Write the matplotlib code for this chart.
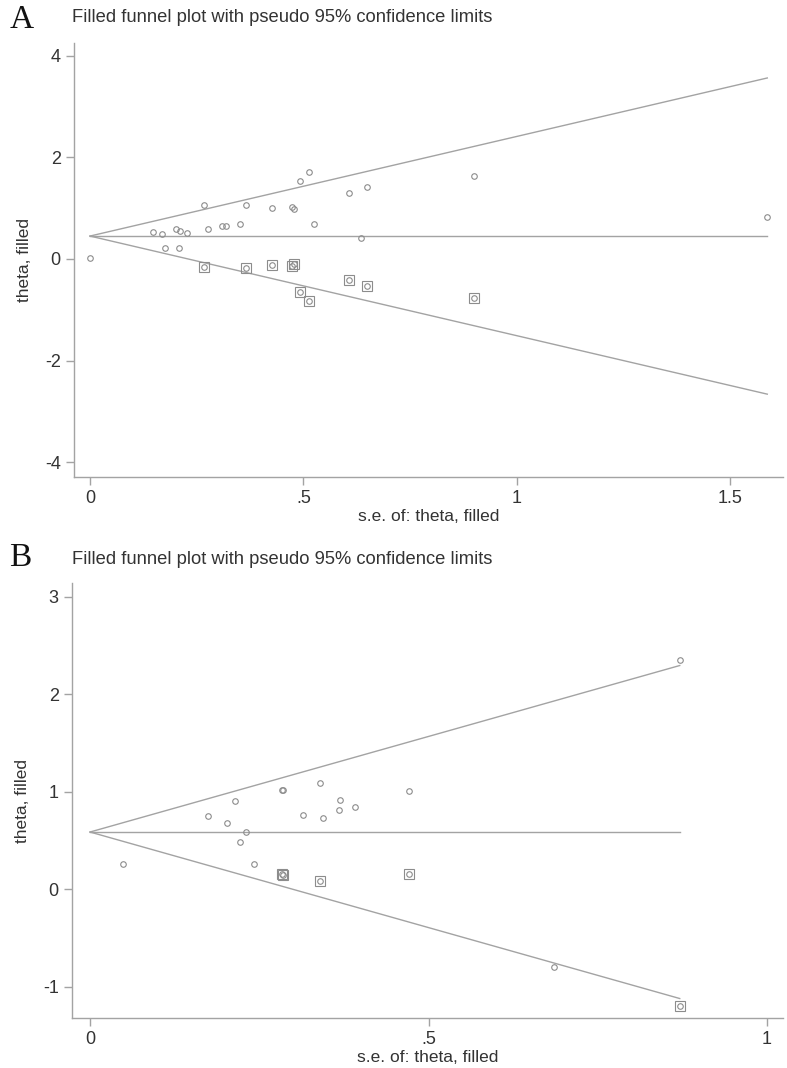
import matplotlib
matplotlib.use("Agg")
import matplotlib.pyplot as plt

plt.rcParams["font.family"] = ["Liberation Sans", "DejaVu Sans"]
plt.rcParams["axes.unicode_minus"] = False

TITLE = "Filled funnel plot with pseudo 95% confidence limits"
XLABEL = "s.e. of: theta, filled"
YLABEL = "theta, filled"

# Panel A: observed studies (circles)
a_se = [0.0, 0.148, 0.169, 0.202, 0.212, 0.228, 0.175, 0.208, 0.268, 0.276,
        0.309, 0.318, 0.352, 0.365, 0.426, 0.474, 0.477, 0.491, 0.513, 0.526,
        0.608, 0.634, 0.650, 0.899, 1.587]
a_theta = [0.02, 0.53, 0.49, 0.58, 0.55, 0.51, 0.22, 0.21, 1.06, 0.59,
           0.64, 0.64, 0.68, 1.07, 1.00, 1.03, 0.98, 1.54, 1.72, 0.68,
           1.30, 0.42, 1.42, 1.64, 0.83]
# Panel A: filled (imputed) studies (squares)
a_fill_se = [0.268, 0.365, 0.426, 0.474, 0.477, 0.491, 0.513, 0.608, 0.650, 0.899]
a_fill_theta = [-0.16, -0.17, -0.11, -0.14, -0.09, -0.65, -0.83, -0.41, -0.53, -0.76]
a_center = 0.45
a_se_max = 1.587

# Panel B
b_se = [0.048, 0.174, 0.202, 0.214, 0.231, 0.222, 0.242, 0.284, 0.285,
        0.315, 0.339, 0.344, 0.368, 0.369, 0.391, 0.471, 0.685, 0.871]
b_theta = [0.26, 0.754, 0.68, 0.905, 0.59, 0.48, 0.26, 1.02, 1.015,
           0.757, 1.09, 0.733, 0.815, 0.915, 0.84, 1.01, -0.80, 2.35]
b_fill_se = [0.284, 0.285, 0.339, 0.471, 0.871]
b_fill_theta = [0.154, 0.149, 0.084, 0.159, -1.20]
b_center = 0.587
b_se_max = 0.871

LINE = "#a3a3a3"
MARK = "#8c8c8c"
TXT = "#333333"


def funnel(ax, se, theta, fse, ftheta, center, se_max):
    z = 1.96
    ax.plot([0, se_max], [center, center], color=LINE, lw=1.0)
    ax.plot([0, se_max], [center, center + z * se_max], color=LINE, lw=1.0)
    ax.plot([0, se_max], [center, center - z * se_max], color=LINE, lw=1.0)
    ax.plot(se, theta, "o", ms=4, mfc="none", mec=MARK, mew=0.8)
    ax.plot(fse, ftheta, "o", ms=4, mfc="none", mec=MARK, mew=0.8)
    ax.plot(fse, ftheta, "s", ms=7.5, mfc="none", mec=MARK, mew=0.8)
    for s in ["top", "right"]:
        ax.spines[s].set_visible(False)
    for s in ["left", "bottom"]:
        ax.spines[s].set_color(LINE)
        ax.spines[s].set_linewidth(1.0)
    ax.tick_params(colors=LINE, labelcolor=TXT, length=6, width=1.0,
                   labelsize=13, direction="out")
    ax.set_xlabel(XLABEL, fontsize=12.5, color=TXT, labelpad=1)
    ax.set_ylabel(YLABEL, fontsize=12.5, color=TXT, labelpad=9)


fig = plt.figure(figsize=(7.87, 10.68), dpi=100)

axA = fig.add_axes([0.094, 0.5534, 0.901, 0.4064])
funnel(axA, a_se, a_theta, a_fill_se, a_fill_theta, a_center, a_se_max)
axA.set_xlim(-0.0375, 1.624)
axA.set_ylim(-4.29, 4.25)
axA.set_xticks([0, 0.5, 1, 1.5])
axA.set_xticklabels(["0", ".5", "1", "1.5"])
axA.set_yticks([-4, -2, 0, 2, 4])

axB = fig.add_axes([0.0915, 0.0468, 0.9035, 0.4073])
funnel(axB, b_se, b_theta, b_fill_se, b_fill_theta, b_center, b_se_max)
axB.set_xlim(-0.0266, 1.0236)
axB.set_ylim(-1.32, 3.14)
axB.set_xticks([0, 0.5, 1])
axB.set_xticklabels(["0", ".5", "1"])
axB.set_yticks([-1, 0, 1, 2, 3])

for letter, ytop, yt in [("A", 1 - 4 / 1068, 1 - 18 / 1068), ("B", 1 - 542 / 1068, 1 - 559 / 1068)]:
    fig.text(0.012, ytop, letter, family="Liberation Serif", fontsize=24,
             va="top", ha="left", color="#111111")
    fig.text(0.0915, yt, TITLE, fontsize=13.2, va="center", ha="left", color=TXT)

fig.savefig("out.png", dpi=100)
